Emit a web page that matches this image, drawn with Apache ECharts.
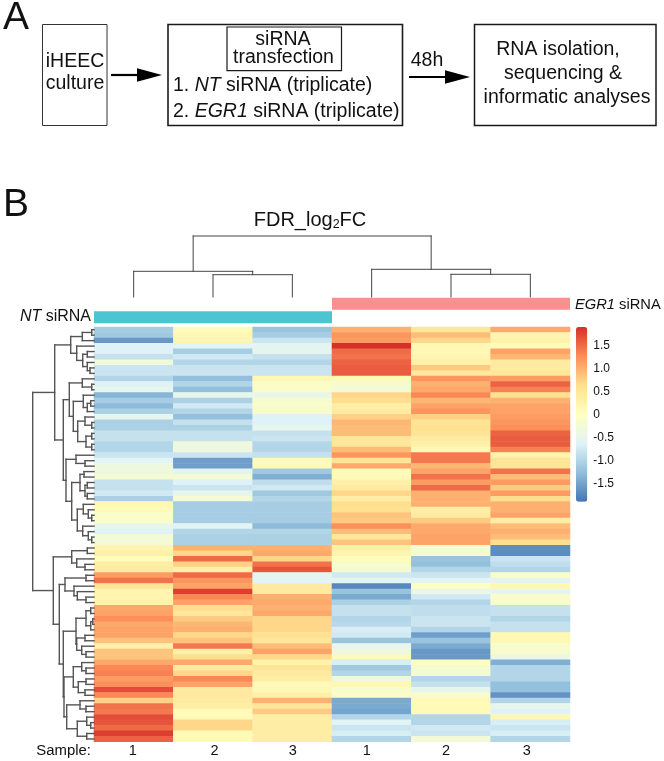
<!DOCTYPE html>
<html>
<head>
<meta charset="utf-8">
<style>html,body{margin:0;padding:0;background:#fff}#c{width:664px;height:761px}</style>
<script src="https://cdn.jsdelivr.net/npm/echarts@6/dist/echarts.min.js"></script>
</head>
<body>
<div id="c"></div>
<script>
// ---------- data ----------
const sampleLabels = ['1', '2', '3', '1', '2', '3'];
const colorStops = ['#4575b4', '#91bfdb', '#e0f3f8', '#ffffbf', '#fee090', '#fc8d59', '#d73027'];
const colorTicks = [-1.5, -1, -0.5, 0, 0.5, 1, 1.5];
const colorTickLabels = ['-1.5', '-1.0', '-0.5', '0', '0.5', '1.0', '1.5'];
const groupNames = ['EGR1', 'NT'];
const groupSpans = [[0, 3, 1], [3, 6, 0]]; // first sample, end sample, annotation row

const nt1 = [-1.1,-1.15,-1.6,-.65,-.65,-.85,-.3,-.8,-.8,-1.0,
  -.65,-.5,-1.35,-1.1,-1.3,-1.05,-.5,-1.05,-1.05,-.85,
  -.85,-1.0,-1.0,-.8,-.6,-.35,-.35,-.2,-.85,-.85,
  -.75,-1.05,.15,.1,-.1,-.1,-.5,-.65,-.25,-.25,
  .2,.3,.05,.35,.4,1.15,1.45,.55,.2,.2,
  .25,1.05,1.1,1.25,1.05,1.1,1.1,.85,.3,.85,
  .85,1.05,1.3,1.35,1.15,1.25,1.7,1.3,.75,1.45,
  1.4,1.7,1.65,1.5,1.8,1.55];
const nt2 = [.1,.15,.2,-.6,-1.1,-.75,-1.0,-.8,-.8,-1.25,
  -1.0,-1.25,-.5,-1.05,-.75,-1.0,-1.25,-.85,-1.05,-.85,
  -.85,-.35,-.35,-.8,-1.55,-1.55,-.55,-.25,-.65,-.8,
  -.5,-.25,-1.1,-1.1,-1.1,-1.1,-.6,-1.0,-1.05,-1.05,
  1.0,.7,1.5,.75,.3,1.5,1.2,1.1,1.8,1.3,
  1.1,.65,.5,.8,.95,1.0,.7,.85,1.4,.3,
  .65,1.05,.4,.7,1.3,1.1,.4,.45,.4,.35,
  .1,.1,.7,.7,.1,.1];
const nt3 = [-1.2,-1.1,-.8,-.55,-.55,-.85,-1.0,-.8,-.8,.15,
  -.1,-.1,-.45,-.15,-.15,-.15,-.65,-.65,-.5,-.85,
  -.8,-1.0,-1.0,-.85,.1,.1,-1.15,-1.4,-.9,-.75,
  -1.15,-1.0,-1.1,-1.1,-1.1,-1.1,-1.3,-1.0,-1.05,-1.05,
  1.0,1.05,.7,1.45,1.65,-.6,-.6,.4,.4,1.0,
  1.05,1.0,1.05,.7,.7,.7,.6,.5,.9,1.1,
  .7,.25,.55,.4,.35,.1,.15,.3,1.0,.5,
  .8,.35,.35,.35,.35,.35];
const egr1a = [1.0,1.2,1.15,1.9,1.5,1.45,1.55,1.6,1.6,.1,
  -.2,-.25,.7,.65,.35,.4,.75,.95,.9,.9,
  .5,.5,.9,1.2,.55,1.05,.1,.1,.3,.4,
  .7,.35,.65,.6,.85,.8,1.25,.9,.5,.85,
  .3,.2,.05,-.15,-.2,-.75,-.55,-1.75,-1.2,-1.45,
  -1.05,-.85,-.85,-1.0,-.95,-.7,-.75,-1.2,-.5,-.35,
  .1,-.7,-1.15,-1.0,-.35,.15,-.15,-.1,-1.45,-1.45,
  -1.5,-1.0,-.6,-.8,-.7,-1.0];
const egr1b = [.5,.9,.7,.15,.15,.2,.3,.8,.45,1.2,
  1.0,1.05,1.3,.95,1.1,1.2,.75,.55,.6,.55,
  .4,.3,.15,1.4,1.4,.95,1.1,1.45,1.15,1.5,
  1.0,1.0,1.0,.35,.4,.8,1.05,1.05,1.1,1.1,
  -.2,-.2,-1.2,-1.25,-1.0,-.8,-.6,-.05,-.45,-.75,
  -1.0,-.9,-.9,-.8,-.8,-1.0,-1.55,-1.2,-1.45,-1.6,
  -1.6,.0,-.2,-.2,-1.0,-.85,-.5,-.15,.1,.1,
  .1,-1.0,-1.0,-.75,-.8,-.25];
const egr1c = [1.05,.2,.25,.1,1.1,.95,.4,.4,.5,1.15,
  1.55,1.35,.6,1.0,1.1,1.1,1.15,1.2,1.25,1.55,
  1.6,1.6,1.35,.25,.55,.55,1.45,.9,1.15,.8,
  1.15,.65,1.0,1.0,1.1,.35,.9,1.0,.9,.65,
  -1.7,-1.7,-.8,-.9,-1.0,-.1,-.55,.15,-.5,-.15,
  -.15,-.85,-.85,-1.0,-.85,-.85,.15,.15,-.15,-.15,
  -.4,-1.4,-1.0,-1.0,-1.0,-1.25,-1.25,-1.65,-1.0,-.5,
  -.65,.15,-.7,-.8,-.7,-1.0];
const matrix = [nt1, nt2, nt3, egr1a, egr1b, egr1c];

// dendrograms: [height, childA, childB]; a bare number is a leaf index
const colTree = [61, [25.7, 0, [22.3, 1, 2]], [27.7, 3, [22.7, 4, 5]]];
const rowTop = [39.3,
  [23.3,
    [11.7, [2.3, 0, 1], 2],
    [17.3, 3, [11.3, [6.7, 4, 5], [6.7, 6, [4, 7, 8]]]]],
  [30.7,
    [24.7,
      [11.7, 9, [2.3, 10, 11]],
      [20.7,
        [10.7, 12, [6.7, [3.3, 13, 14], 15]],
        [16.3, [9, 16, [2.3, 17, 18]], [8, [2.3, 19, 20], [2.3, 21, 22]]]]],
    [28,
      [18, 23, [9, 24, 25]],
      [22.3,
        [14, [10, 26, 27], [9, [6.7, 28, 29], [6.7, 30, 31]]],
        [16.7, [10.7, 32, [5.7, 33, [2.3, 34, 35]]], [11.3, 36, [5.7, 37, [2.3, 38, 39]]]]]]]];
const rowBottom = [40.7,
  [22.3, [6.7, 40, 41], [17.3, 42, [9, 43, 44]]],
  [34.7,
    [29, [8, 45, 46], [20, 47, [16.7, 48, [8, 49, 50]]]],
    [30.7,
      [18,
        [8, [3.3, 51, 52], [3.3, [1.3, 53, 54], 55]],
        [17.3, [9, 56, 57], [12.3, 58, [8, 59, 60]]]],
      [30,
        [20.7, [12.3, 61, [8, 62, 63]], [15.7, [8, 64, 65], [9, 66, 67]]],
        [27.3, [14, 68, [8, 69, 70]], [16.7, [7.3, 71, [3.3, 72, 73]], [7.3, 74, 75]]]]]]];
const rowTree = [61.3, rowTop, rowBottom];

// ---------- helpers ----------
function segments(tree) {
  const out = [];
  (function walk(n) {
    if (typeof n === 'number') return { pos: n + 0.5, h: 0 };
    const a = walk(n[1]), b = walk(n[2]);
    out.push([a.pos, a.h, a.pos, n[0]], [b.pos, b.h, b.pos, n[0]], [a.pos, n[0], b.pos, n[0]]);
    return { pos: (a.pos + b.pos) / 2, h: n[0] };
  })(tree);
  return out;
}
const rowSegs = segments(rowTree);
const colSegs = segments(colTree);

const heatData = [];
matrix.forEach((col, c) => col.forEach((v, r) => heatData.push([c, r, v])));
const FONT = '"Liberation Sans", Arial, sans-serif';
const rowCats = nt1.map((_, i) => i);

const box = (x, y, w, h, lw, stroke) => ({ type: 'rect', shape: { x, y, width: w, height: h },
  style: { fill: 'transparent', stroke: stroke || '#1a1a1a', lineWidth: lw || 1.4 }, silent: true });
const txt = (x, y, text, size, align, rich) => ({ type: 'text', x, y, silent: true,
  style: { text, fontFamily: FONT, fontSize: size, fill: '#111', align: align || 'center', verticalAlign: 'middle', rich } });
const arrow = (x1, headStart, x2, y) => [
  { type: 'line', shape: { x1, y1: y, x2: headStart, y2: y }, style: { stroke: '#000', lineWidth: 2.2 }, silent: true },
  { type: 'polygon', shape: { points: [[headStart, y - 6.7], [x2, y], [headStart, y + 6.7]] }, style: { fill: '#000' }, silent: true }
];
const richAt = size => ({ i: { fontStyle: 'italic', fontFamily: FONT, fontSize: size, fill: '#111' }, n: { fontFamily: FONT, fontSize: size, fill: '#111' } });

const graphics = [
  txt(3, 18, 'A', 39, 'left'),
  txt(3, 205, 'B', 39, 'left'),
  box(42.5, 24.5, 64.5, 101, 1, '#333'),
  box(168, 24.5, 234.5, 101, 1.6),
  box(227, 27, 114.5, 43.7, 1.2),
  box(474.5, 24.5, 181.5, 101, 1.5),
  txt(75, 62, 'iHEEC', 19.5), txt(75, 84, 'culture', 19.5),
  txt(283, 39.5, 'siRNA', 19.5), txt(283.5, 57.5, 'transfection', 19.5),
  txt(173, 86, '{n|1. }{i|NT}{n| siRNA (triplicate)}', 19.5, 'left', richAt(19.5)),
  txt(173, 112, '{n|2. }{i|EGR1}{n| siRNA (triplicate)}', 19.5, 'left', richAt(19.5)),
  txt(427, 61, '48h', 19.5),
  txt(558, 49.5, 'RNA isolation,', 19.5),
  txt(563, 73.5, 'sequencing &', 19.5),
  txt(567, 97.5, 'informatic analyses', 19.5),
  ...arrow(111, 137, 162, 75),
  ...arrow(409, 445, 470, 77),
  txt(310, 220, '{n|FDR_log}{s|2}{n|FC}', 20, 'center', {
    n: { fontFamily: FONT, fontSize: 20, fill: '#111' },
    s: { fontFamily: FONT, fontSize: 12.5, fill: '#111', padding: [9, 0, 0, 0] } }),
  txt(575, 304.5, '{i|EGR1}{n| siRNA}', 14.7, 'left', richAt(14.7)),
  txt(91, 317, '{i|NT}{n| siRNA}', 16, 'right', richAt(16)),
  txt(91, 750.5, 'Sample:', 14.9, 'right')
];

const segSeries = (xi, yi, data, stroke, lw, horizontalHeight) => ({
  type: 'custom', xAxisIndex: xi, yAxisIndex: yi, data, silent: true, clip: false,
  renderItem(p, api) {
    const swap = horizontalHeight;
    const a = api.coord(swap ? [api.value(1), api.value(0)] : [api.value(0), api.value(1)]);
    const b = api.coord(swap ? [api.value(3), api.value(2)] : [api.value(2), api.value(3)]);
    return { type: 'line', shape: { x1: a[0], y1: a[1], x2: b[0], y2: b[1] },
      style: { stroke, lineWidth: lw, lineCap: 'square' } };
  }
});

const hidden = { show: false };
const option = {
  animation: false,
  backgroundColor: '#fff',
  textStyle: { fontFamily: FONT },
  grid: [
    { left: 94, top: 327, width: 476, height: 414.7 },               // heatmap
    { left: 32.7, top: 327, width: 61.3, height: 414.7 },            // row dendrogram
    { left: 94, top: 236, width: 476, height: 61 },                  // column dendrogram
    { left: 94, top: 297, width: 476, height: 27 },                  // annotation bars
    { left: 576, top: 327, width: 11.3, height: 174.7 }              // colourbar ticks
  ],
  xAxis: [
    { type: 'category', gridIndex: 0, position: 'bottom',
      data: sampleLabels.map((v, i) => ({ value: v, textStyle: { padding: [0, [2, 0, 0, 10, 10, 7][i], 0, [0, 3, 1, 0, 0, 0][i]] } })),
      axisLine: hidden, axisTick: hidden, splitLine: hidden,
      axisLabel: { margin: 2, fontSize: 14.5, color: '#111', fontFamily: FONT, interval: 0 } },
    { type: 'value', gridIndex: 1, min: 0, max: 61.3, inverse: true, show: false },
    { type: 'value', gridIndex: 2, min: 0, max: 6, show: false },
    { type: 'value', gridIndex: 3, min: 0, max: 6, show: false },
    { type: 'value', gridIndex: 4, min: 0, max: 1, show: false }
  ],
  yAxis: [
    { type: 'category', gridIndex: 0, inverse: true, data: rowCats, show: false },
    { type: 'value', gridIndex: 1, min: 0, max: 76, inverse: true, show: false },
    { type: 'value', gridIndex: 2, min: 0, max: 61, show: false },
    { type: 'value', gridIndex: 3, min: 0, max: 2, inverse: true, show: false },
    { type: 'value', gridIndex: 4, min: -1.9, max: 1.9, position: 'right',
      axisLine: hidden, axisTick: hidden, splitLine: hidden,
      axisLabel: { show: true, margin: 6, fontSize: 12, color: '#111', fontFamily: FONT,
        customValues: colorTicks,
        formatter: v => colorTickLabels[colorTicks.indexOf(v)] } }
  ],
  visualMap: {
    type: 'continuous', seriesIndex: 0, min: -1.9, max: 1.9, calculable: false, hoverLink: false,
    left: 576, top: 327, padding: 0, itemWidth: 11.3, itemHeight: 174.7, text: null, showLabel: false,
    inRange: { color: colorStops }
  },
  series: [
    { type: 'heatmap', xAxisIndex: 0, yAxisIndex: 0, data: heatData, silent: true, progressive: 0,
      itemStyle: { borderWidth: 0 } },
    segSeries(1, 1, rowSegs, '#555', 1.4, true),
    segSeries(2, 2, colSegs, '#444', 1, false),
    { type: 'custom', xAxisIndex: 3, yAxisIndex: 3, silent: true, data: groupSpans,
      renderItem(p, api) {
        const g = api.value(2);
        const a = api.coord([api.value(0), g + 0.05]), b = api.coord([api.value(1), g + 0.95]);
        return { type: 'rect', shape: { x: a[0], y: a[1], width: b[0] - a[0], height: b[1] - a[1] },
          style: { fill: groupNames[g] === 'NT' ? '#4dc4d2' : '#f98f8e' } };
      } },
    { type: 'custom', xAxisIndex: 4, yAxisIndex: 4, data: [], renderItem() {} }
  ],
  graphic: { elements: graphics }
};
const chart = echarts.init(document.getElementById('c'), null, { renderer: 'canvas' });
chart.setOption(option);
</script>
</body>
</html>
